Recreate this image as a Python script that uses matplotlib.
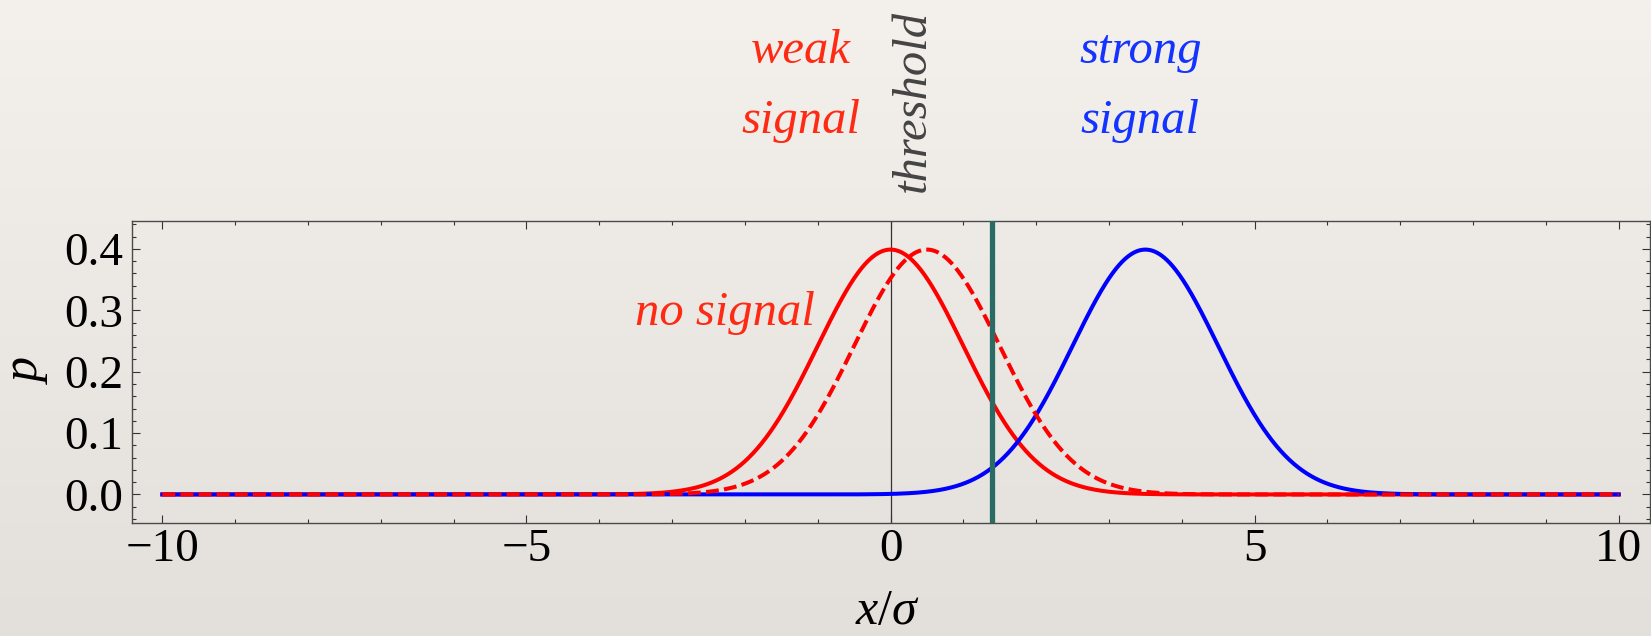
import numpy as np
import matplotlib.pyplot as plt
from matplotlib.ticker import MultipleLocator

plt.rcParams['font.family'] = ['Liberation Serif', 'DejaVu Serif']
plt.rcParams['mathtext.fontset'] = 'custom'
plt.rcParams['mathtext.rm'] = 'Liberation Serif'
plt.rcParams['mathtext.it'] = 'Liberation Serif:italic'

# distributions of the measured quantity, in units of sigma
x_range = [-10, 10]
sigma = 1.0
mean_none = 0.0     # no signal
mean_weak = 0.5     # weak signal
mean_strong = 3.5   # strong signal
threshold = 1.4

red = '#ff0000'
blue = '#0000ff'
teal = '#2a6b64'


def gauss(x, mu):
    return np.exp(-0.5 * ((x - mu) / sigma) ** 2) / (sigma * np.sqrt(2 * np.pi))


x = np.linspace(x_range[0], x_range[1], 2001)

fig = plt.figure(figsize=(16.51, 6.36), dpi=100)

# paper-like backdrop, slightly darker towards the bottom
bg = fig.add_axes([0, 0, 1, 1], zorder=-10)
grad = np.linspace(0, 1, 256)[:, None]
top_c = np.array([244, 241, 236]) / 255
bot_c = np.array([227, 224, 219]) / 255
img = top_c[None, None, :] * (1 - grad[..., None]) + bot_c[None, None, :] * grad[..., None]
bg.imshow(np.repeat(img, 2, axis=1), aspect='auto', extent=[0, 1, 0, 1])
bg.axis('off')

ax = fig.add_axes([0.0798, 0.1772, 0.9196, 0.4758])
ax.set_facecolor('none')

ax.axvline(0, color='#333333', lw=0.9, zorder=1)
ax.plot(x, gauss(x, mean_none), color=red, lw=2.9, zorder=2)
ax.plot(x, gauss(x, mean_strong), color=blue, lw=2.9, zorder=3)
ax.plot(x, gauss(x, mean_weak), color=red, lw=2.9, dashes=(3.2, 1.3), zorder=4)
ax.axvline(threshold, color=teal, lw=3.8, zorder=5)

ax.set_xlim(-10.42, 10.43)
ax.set_ylim(-0.047, 0.446)

ax.xaxis.set_major_locator(MultipleLocator(5))
ax.xaxis.set_minor_locator(MultipleLocator(1))
ax.yaxis.set_major_locator(MultipleLocator(0.1))
ax.yaxis.set_minor_locator(MultipleLocator(0.02))
ax.yaxis.set_major_formatter(lambda v, pos: f'{v:.1f}')

for s in ax.spines.values():
    s.set_color('#4a4a4a')
    s.set_linewidth(1.0)
ax.tick_params(which='both', direction='in', top=True, right=True,
               color='#333333', width=0.8, labelsize=34)
ax.tick_params(which='major', length=5.8)
ax.tick_params(which='minor', length=2.9)
ax.tick_params(axis='x', pad=4)
ax.tick_params(axis='y', pad=6)

ax.set_xlabel(r'$x/\sigma$', fontsize=36)
ax.xaxis.set_label_coords(0.498, -0.215)
ax.set_ylabel(r'$p$', fontsize=36)
ax.yaxis.set_label_coords(-0.054, 0.507)

lab = dict(fontsize=35, style='italic', ha='center', va='baseline', clip_on=False)
ax.text(-2.28, 0.2757, 'no signal', color='#ff2a14', **lab)
ax.text(-1.23, 0.7024, 'weak', color='#ff2a14', **lab)
ax.text(-1.23, 0.5884, 'signal', color='#ff2a14', **lab)
ax.text(3.43, 0.7024, 'strong', color='#1433ff', **lab)
ax.text(3.43, 0.5884, 'signal', color='#1433ff', **lab)
ax.text(0.31, 0.492, 'threshold', color='#444444', fontsize=35, style='italic',
        rotation=90, ha='center', va='bottom', clip_on=False)

fig.savefig('out.png', dpi=100)
